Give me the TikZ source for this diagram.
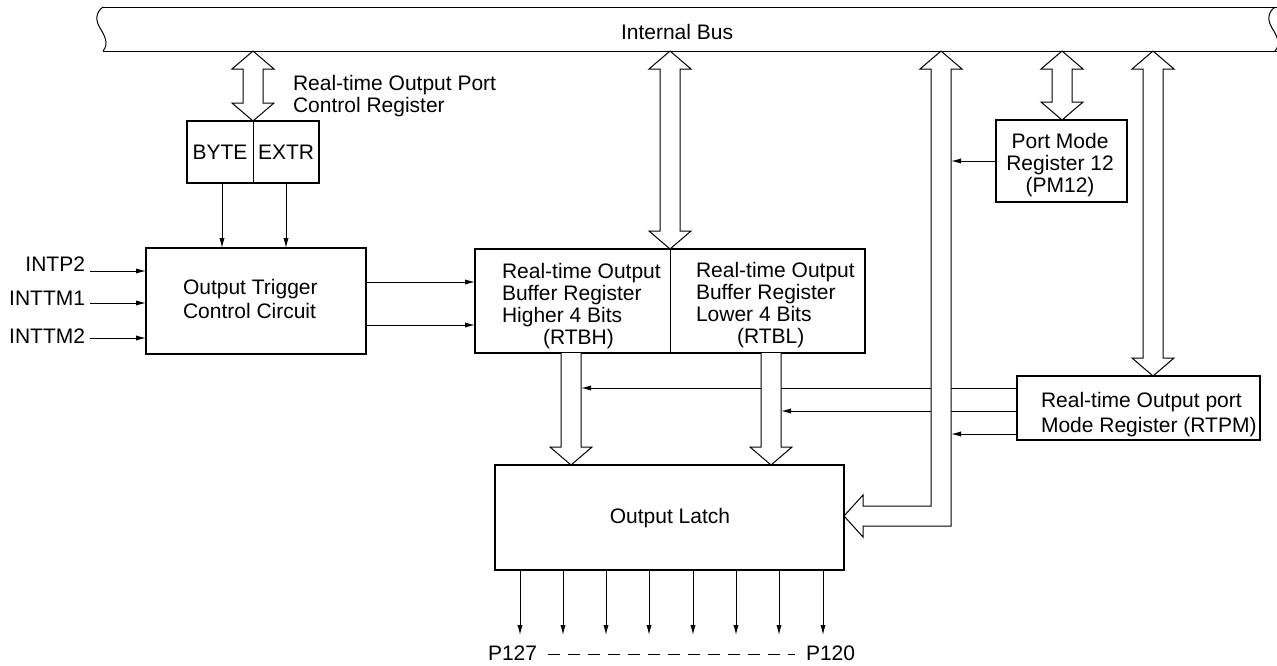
\documentclass[tikz,border=0pt]{standalone}
\usepackage{fontspec}
\setmainfont{Liberation Sans}
\usetikzlibrary{arrows.meta}
\tikzset{
  box/.style={draw, line width=1.2pt, inner sep=0pt, outer sep=0pt},
  wire/.style={line width=0.5pt},
  arr/.style={wire, -{Latex[length=5pt,width=2.6pt]}},
  fat/.style={line width=0.5pt, line join=miter},
  txt/.style={inner sep=0pt, outer sep=0pt, font=\fontsize{10.5}{11}\selectfont},
}
\newcommand\FatDbl[3]{%
  \draw[fat, fill=white] (#1,#2) -- (#1+21,#2+18) -- (#1+10,#2+18) -- (#1+10,#3-18) -- (#1+21,#3-18) -- (#1,#3)
    -- (#1-21,#3-18) -- (#1-10,#3-18) -- (#1-10,#2+18) -- (#1-21,#2+18) -- cycle;}
\newcommand\FatDown[3]{%
  \path[fill=white] (#1-10,#2) -- (#1-10,#3-18) -- (#1-21,#3-18) -- (#1,#3) -- (#1+21,#3-18) -- (#1+10,#3-18) -- (#1+10,#2) -- cycle;
  \draw[fat] (#1-10,#2) -- (#1-10,#3-18) -- (#1-21,#3-18) -- (#1,#3) -- (#1+21,#3-18) -- (#1+10,#3-18) -- (#1+10,#2);}
\begin{document}
\begin{tikzpicture}[x=0.5pt, y=-0.5pt]
\fill[white] (0,0) rectangle (1277,665);
\useasboundingbox (0,0) rectangle (1277,665);

% internal bus
\draw[wire] (103,7) -- (1277,7);
\draw[wire] (103,51) -- (1277,51);
\draw[wire] (103,7) .. controls (96,12) and (95,20) .. (100,28) .. controls (105,36) and (109,44) .. (103,51);
\draw[wire] (1275,7) .. controls (1268,12) and (1267,20) .. (1272,28) .. controls (1277,36) and (1281,44) .. (1275,51);
\node[txt, anchor=base west] (busl) at (621,39) {Internal Bus};

% boxes
\node[box, minimum width=66pt, minimum height=31pt] (rtoc) at (253,152) {};
\draw[wire] (rtoc.north) -- (rtoc.south);
\node[txt, anchor=base] (byte) at (220,159) {BYTE};
\node[txt, anchor=base] (extr) at (286,159) {EXTR};
\node[txt, anchor=north west, align=left] (rtocl) at (293,75) {Real-time Output Port\\Control Register};

\node[box, minimum width=110pt, minimum height=53pt] (otc) at (256,301) {};
\node[txt, anchor=north west, align=left, font=\fontsize{10.5}{12}\selectfont] (otcl) at (183,279) {Output Trigger\\Control Circuit};

\node[box, minimum width=195pt, minimum height=52pt] (rtb) at (670,301) {};
\draw[wire] (rtb.north) -- (rtb.south);
\node[txt, anchor=north west, align=left] (rtbh) at (502,263) {Real-time Output\\Buffer Register\\Higher 4 Bits\\\hspace*{20.5pt}(RTBH)};
\node[txt, anchor=north west, align=left] (rtbl) at (696,262) {Real-time Output\\Buffer Register\\Lower 4 Bits\\\hspace*{20.5pt}(RTBL)};

\node[box, minimum width=174.5pt, minimum height=52.5pt] (latch) at (669.5,517.5) {};
\node[txt] (latchl) at (670,518) {Output Latch};

\node[box, minimum width=65.5pt, minimum height=41pt] (pm12) at (1061.5,161) {};
\node[txt, anchor=north, align=center] (pm12l) at (1060,133) {Port Mode\\Register 12\\(PM12)};

\node[box, minimum width=121.5pt, minimum height=32pt] (rtpm) at (1138.5,408) {};
\node[txt, anchor=north west, align=left, font=\fontsize{10.5}{12.5}\selectfont] (rtpml) at (1041,392) {Real-time Output port\\Mode Register (RTPM)};

% inputs
\node[txt, anchor=base east] (in1) at (85,271) {INTP2};
\node[txt, anchor=base east] (in2) at (85,305) {INTTM1};
\node[txt, anchor=base east] (in3) at (85,343) {INTTM2};
\draw[arr] (90,271) -- (otc.west |- 0,271);
\draw[arr] (90,303) -- (otc.west |- 0,303);
\draw[arr] (90,338) -- (otc.west |- 0,338);

% control arrows
\draw[arr] (rtoc.south -| 222,0) -- (otc.north -| 222,0);
\draw[arr] (rtoc.south -| 286,0) -- (otc.north -| 286,0);
\draw[arr] (otc.east |- 0,282) -- (rtb.west |- 0,282);
\draw[arr] (otc.east |- 0,325) -- (rtb.west |- 0,325);
\draw[arr] (pm12.west) -- (pm12.west -| 951,0);
\draw[arr] (rtpm.west |- 0,388) -- (581,388);
\draw[arr] (rtpm.west |- 0,411) -- (781,411);
\draw[arr] (rtpm.west |- 0,434) -- (951,434);

% outputs
\foreach \x in {520,563,606,649,693,736,779,823} {
  \draw[arr] (latch.south -| \x,0) -- (\x,635);
}
\node[txt, anchor=base west] (p127) at (488,660) {P127};
\node[txt, anchor=base west] (p120) at (806,660) {P120};
\draw[wire, dash pattern=on 6pt off 4pt] (548,654) -- (795,654);

% fat arrows
\FatDbl{253}{51}{121}
\FatDbl{670}{51}{249}
\FatDbl{1062}{51}{120}
\FatDbl{1153}{51}{376}
\FatDown{571}{353}{465}
\FatDown{771}{353}{465}
\draw[fat, fill=white] (941,51) -- (962,69) -- (951,69) -- (951,526) -- (863,526) -- (863,537) -- (latch.east |- 0,516)
  -- (863,495) -- (863,506) -- (931,506) -- (931,69) -- (920,69) -- cycle;
\end{tikzpicture}
\end{document}
